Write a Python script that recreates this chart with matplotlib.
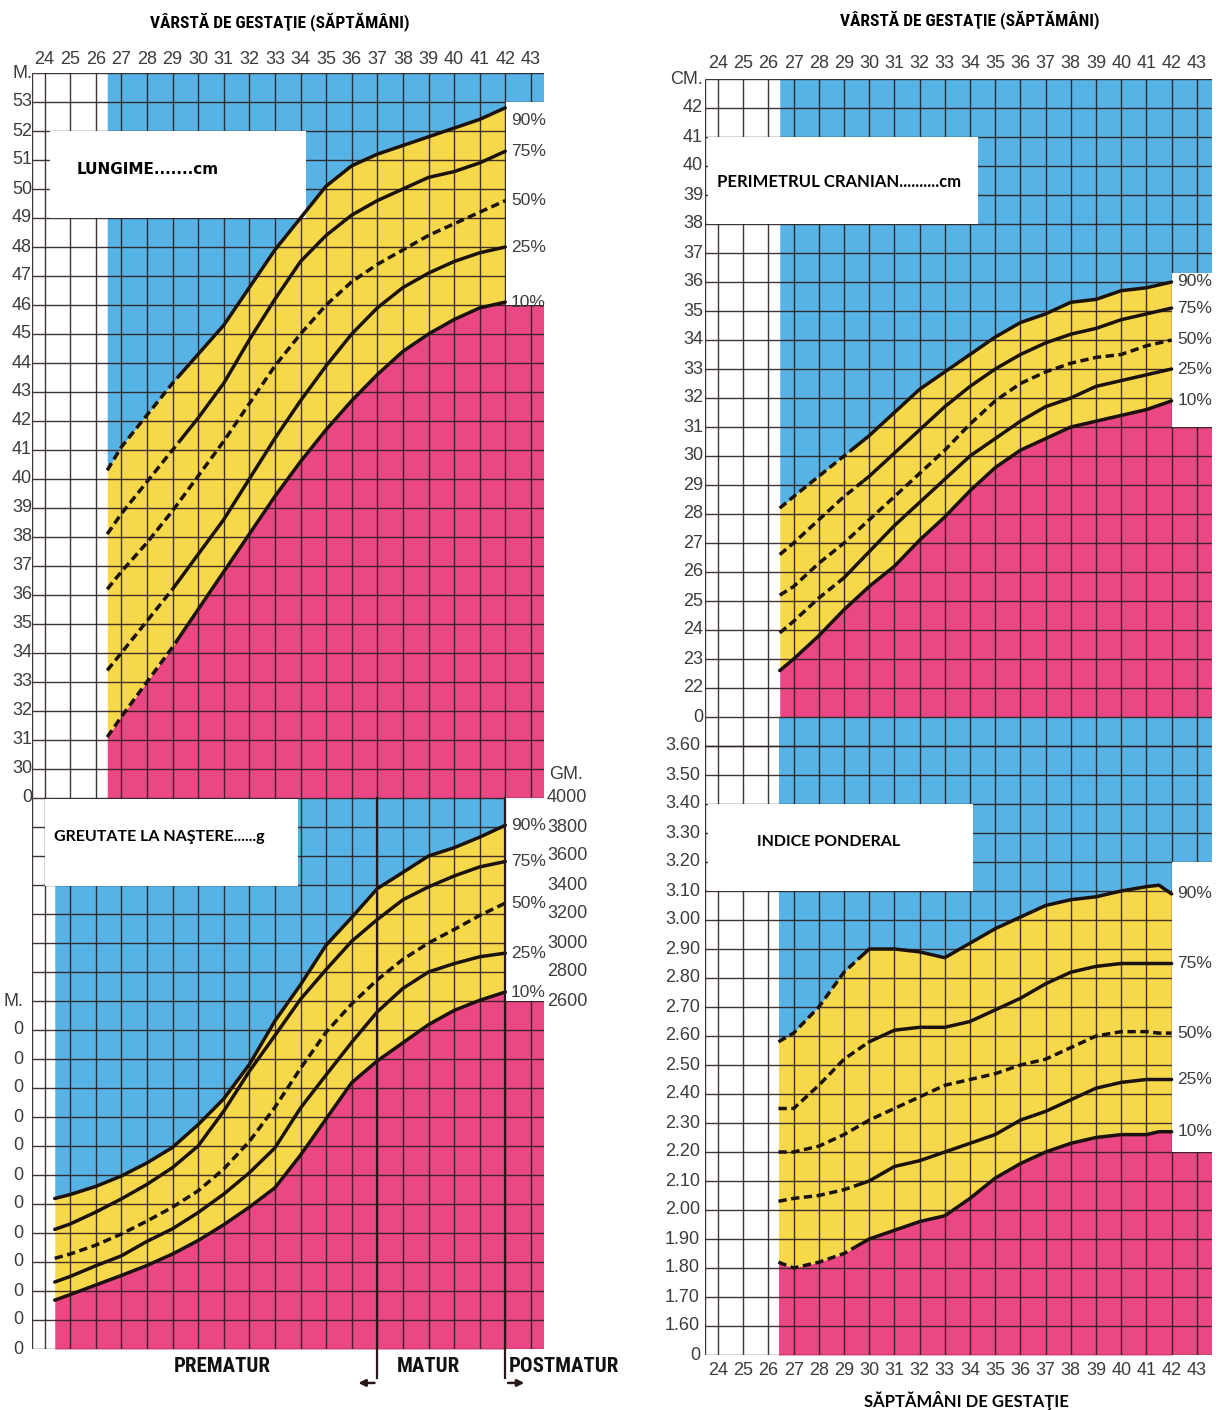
import numpy as np
import matplotlib
matplotlib.use("Agg")
import matplotlib.pyplot as plt
from matplotlib.patches import Rectangle
import matplotlib.transforms as mtransforms
from matplotlib import font_manager as fm

# ---------------------------------------------------------------- data
week_ticks = list(range(24, 44))
percentile_labels = ["90%", "75%", "50%", "25%", "10%"]

# Length (cm)
length_weeks = [26.45, 27, 28, 29, 30, 31, 32, 33, 34, 35, 36, 37, 38, 39, 40, 41, 42]
length_p90 = [40.3, 41.1, 42.2, 43.3, 44.3, 45.3, 46.6, 47.9, 49.0, 50.1, 50.8, 51.2, 51.5, 51.8, 52.1, 52.4, 52.8]
length_p75 = [38.1, 38.8, 39.9, 41.0, 42.1, 43.3, 44.8, 46.2, 47.5, 48.4, 49.1, 49.6, 50.0, 50.4, 50.6, 50.9, 51.3]
length_p50 = [36.2, 36.8, 37.8, 38.9, 40.1, 41.3, 42.6, 43.9, 45.0, 46.0, 46.8, 47.4, 47.9, 48.4, 48.8, 49.2, 49.6]
length_p25 = [33.4, 34.0, 35.1, 36.2, 37.4, 38.6, 40.0, 41.4, 42.7, 43.9, 45.0, 45.9, 46.6, 47.1, 47.5, 47.8, 48.0]
length_p10 = [31.1, 31.8, 33.0, 34.2, 35.5, 36.8, 38.1, 39.4, 40.6, 41.7, 42.7, 43.6, 44.4, 45.0, 45.5, 45.9, 46.1]
length_tick_values = list(range(29, 55))
length_tick_labels = ["0"] + [str(v) for v in range(30, 54)] + ["M."]

# Birth weight (g)
weight_weeks = [24.4, 25, 26, 27, 28, 29, 30, 31, 32, 33, 34, 35, 36, 37, 38, 39, 40, 41, 42]
weight_p90 = [1238, 1265, 1321, 1393, 1483, 1590, 1747, 1925, 2162, 2462, 2712, 2985, 3176, 3375, 3487, 3600, 3657, 3730, 3812]
weight_p75 = [1025, 1062, 1144, 1235, 1335, 1451, 1600, 1840, 2115, 2362, 2612, 2817, 3012, 3162, 3298, 3387, 3462, 3525, 3562]
weight_p50 = [825, 855, 916, 993, 1082, 1178, 1291, 1441, 1631, 1867, 2135, 2385, 2580, 2746, 2887, 3000, 3093, 3190, 3275]
weight_p25 = [662, 700, 774, 842, 942, 1029, 1141, 1268, 1415, 1587, 1862, 2090, 2315, 2525, 2687, 2800, 2858, 2905, 2930]
weight_p10 = [537, 575, 641, 707, 776, 855, 948, 1057, 1178, 1312, 1537, 1787, 2037, 2187, 2312, 2437, 2535, 2605, 2662]
weight_left_values = list(range(200, 2800, 200))
weight_left_labels = ["0"] * 12 + ["M."]
weight_right_values = list(range(2600, 4200, 200))
weight_right_labels = [str(v) for v in weight_right_values]

# Head circumference (cm)
head_weeks = [26.45, 27, 28, 29, 30, 31, 32, 33, 34, 35, 36, 37, 38, 39, 40, 41, 42]
head_p90 = [28.2, 28.6, 29.3, 30.0, 30.7, 31.5, 32.3, 32.9, 33.5, 34.1, 34.6, 34.9, 35.3, 35.4, 35.7, 35.8, 36.0]
head_p75 = [26.6, 27.0, 27.8, 28.6, 29.3, 30.1, 30.9, 31.7, 32.4, 33.0, 33.5, 33.9, 34.2, 34.4, 34.7, 34.9, 35.1]
head_p50 = [25.2, 25.5, 26.3, 27.0, 27.8, 28.6, 29.4, 30.2, 31.1, 31.9, 32.5, 32.9, 33.2, 33.4, 33.5, 33.8, 34.0]
head_p25 = [23.9, 24.3, 25.1, 25.8, 26.7, 27.6, 28.4, 29.2, 30.0, 30.6, 31.2, 31.7, 32.0, 32.4, 32.6, 32.8, 33.0]
head_p10 = [22.6, 23.0, 23.8, 24.7, 25.5, 26.2, 27.1, 27.9, 28.8, 29.6, 30.2, 30.6, 31.0, 31.2, 31.4, 31.6, 31.9]
head_tick_values = list(range(21, 44))
head_tick_labels = ["0"] + [str(v) for v in range(22, 43)] + ["CM."]

# Ponderal index
pi_weeks = [26.4, 27, 28, 29, 30, 31, 32, 33, 34, 35, 36, 37, 38, 39, 40, 41, 41.5, 42]
pi_p90 = [2.58, 2.61, 2.70, 2.82, 2.90, 2.90, 2.89, 2.87, 2.92, 2.97, 3.01, 3.05, 3.07, 3.08, 3.10, 3.115, 3.12, 3.09]
pi_p75 = [2.35, 2.35, 2.43, 2.52, 2.58, 2.62, 2.63, 2.63, 2.65, 2.69, 2.73, 2.78, 2.82, 2.84, 2.85, 2.85, 2.85, 2.85]
pi_p50 = [2.20, 2.20, 2.22, 2.26, 2.31, 2.35, 2.39, 2.43, 2.45, 2.47, 2.50, 2.52, 2.56, 2.60, 2.615, 2.615, 2.61, 2.61]
pi_p25 = [2.03, 2.04, 2.05, 2.07, 2.10, 2.15, 2.17, 2.20, 2.23, 2.26, 2.31, 2.34, 2.38, 2.42, 2.44, 2.45, 2.45, 2.45]
pi_p10 = [1.82, 1.80, 1.82, 1.85, 1.90, 1.93, 1.96, 1.98, 2.04, 2.11, 2.16, 2.20, 2.23, 2.25, 2.26, 2.26, 2.27, 2.27]
pi_tick_values = [round(1.5 + 0.1 * i, 2) for i in range(22)]
pi_tick_labels = ["0"] + ["%.2f" % v for v in pi_tick_values[1:]]

# ---------------------------------------------------------------- style
W, H, DPI = 1224, 1410, 100
BLUE, YELLOW, PINK = "#57b3e6", "#f7d84a", "#ea4784"
GRID, INK, TXT = "#2b1f1f", "#1b120c", "#3c3c3c"
NUM_FONT = ["Liberation Sans", "DejaVu Sans"]
BOXFONT = ["Lato", "DejaVu Sans"]


def pick_font(candidates):
    for fam in candidates:
        try:
            fm.findfont(fm.FontProperties(family=fam, weight="bold"), fallback_to_default=False)
            return fam
        except Exception:
            continue
    return None


_narrow = pick_font(["Liberation Sans Narrow", "Roboto Condensed", "DejaVu Sans Condensed"])
if _narrow is not None:
    HEAD_FONT = [_narrow, "DejaVu Sans"]
    HEAD_SIZE, FOOT_SIZE = 12.5, 15.0 if _narrow != "DejaVu Sans Condensed" else 12.5
else:
    HEAD_FONT = ["Lato", "DejaVu Sans"]
    HEAD_SIZE, FOOT_SIZE = 11.5, 13.0

fig = plt.figure(figsize=(W / DPI, H / DPI), dpi=DPI)
fig.patch.set_facecolor("white")

L_X0, L_STEP, L_WMIN, L_WMAX = 44.5, 25.6, 23.5, 43.5
R_X0, R_STEP, R_WMIN, R_WMAX = 718.0, 25.2, 23.5, 43.6


def make_ax(x0, step, wmin, wmax, ytop, ybot, ylim):
    xa = x0 + step * (wmin - 24)
    xb = x0 + step * (wmax - 24)
    ax = fig.add_axes([xa / W, 1 - ybot / H, (xb - xa) / W, (ybot - ytop) / H])
    ax.set_xlim(wmin, wmax)
    ax.set_ylim(*ylim)
    ax.axis("off")
    ax.patch.set_alpha(0)
    return ax


axL1 = make_ax(L_X0, L_STEP, L_WMIN, L_WMAX, 73, 798, (29, 54))
axL2 = make_ax(L_X0, L_STEP, L_WMIN, L_WMAX, 798, 1349, (200, 4000))
axR1 = make_ax(R_X0, R_STEP, R_WMIN, R_WMAX, 79, 717, (21, 43))
axR2 = make_ax(R_X0, R_STEP, R_WMIN, R_WMAX, 717, 1355, (1.5, 3.7))


def draw_curve(ax, wk, y, mode, split=None):
    kw = dict(color=INK, lw=2.5, zorder=6, solid_joinstyle="round")
    dkw = dict(color=INK, lw=2.5, zorder=6, dashes=(2.4, 1.3), dash_capstyle="butt")
    if mode == "dashed":
        ax.plot(wk, y, **dkw)
    elif split is None:
        ax.plot(wk, y, solid_capstyle="round", **kw)
    else:
        ys = np.interp(split, wk, y)
        m = wk < split
        ax.plot(np.r_[wk[m], split], np.r_[y[m], ys], **dkw)
        ax.plot(np.r_[split, wk[~m]], np.r_[ys, y[~m]], solid_capstyle="round", **kw)


def panel(ax, weeks, series, hlines, box_lo, box_hi, styles, top_label_dy=0.0):
    wk = np.asarray(weeks, float)
    s = [np.asarray(v, float) for v in series]
    wmin, wmax = ax.get_xlim()
    ymin, ymax = ax.get_ylim()
    ax.fill_between(wk, s[0], ymax, color=BLUE, lw=0, zorder=1)
    ax.fill_between(wk, s[-1], s[0], color=YELLOW, lw=0, zorder=1)
    ax.fill_between(wk, ymin, s[-1], color=PINK, lw=0, zorder=1)
    ax.add_patch(Rectangle((wk[-1], box_hi), wmax - wk[-1], ymax - box_hi, color=BLUE, lw=0, zorder=1))
    ax.add_patch(Rectangle((wk[-1], ymin), wmax - wk[-1], box_lo - ymin, color=PINK, lw=0, zorder=1))
    ax.vlines([wmin] + week_ticks, ymin, ymax, color=GRID, lw=1.0, alpha=0.9, zorder=2)
    ax.hlines(hlines, wmin, wmax, color=GRID, lw=1.0, alpha=0.9, zorder=2)
    ax.add_patch(Rectangle((wk[-1] + 0.03, box_lo), wmax - wk[-1], box_hi - box_lo,
                           facecolor="white", lw=0, zorder=3))
    for y, (mode, split) in zip(s, styles):
        draw_curve(ax, wk, y, mode, split)
    for i, (y, lab) in enumerate(zip(s, percentile_labels)):
        dy = top_label_dy if i == 0 else 0.0
        ax.text(wk[-1] + 0.22, y[-1] + dy, lab, ha="left", va="center", fontsize=12.5,
                color=TXT, family=NUM_FONT, zorder=7)


def white_box(ax, w0, w1, y0, y1):
    ax.add_patch(Rectangle((w0, y0), w1 - w0, y1 - y0, facecolor="white", lw=0, zorder=4))


# ---------------- left top: length
panel(axL1, length_weeks, [length_p90, length_p75, length_p50, length_p25, length_p10],
      length_tick_values, 46, 53,
      [("split", 29.3), ("split", 29.4), ("dashed", None), ("split", 29.1), ("split", 29.3)],
      top_label_dy=-0.45)
white_box(axL1, 24.2, 34.2, 49.0, 52.0)
axL1.text(25.27, 50.66, "LUNGIME.......cm", fontsize=11, fontweight="bold",
          family=["DejaVu Sans"], va="center", ha="left", zorder=5)

# ---------------- left bottom: weight
panel(axL2, weight_weeks, [weight_p90, weight_p75, weight_p50, weight_p25, weight_p10],
      list(range(200, 4200, 200)), 2600, 4000,
      [("solid", None), ("solid", None), ("dashed", None), ("solid", None), ("solid", None)])
white_box(axL2, 24.0, 33.9, 3393, 3990)
axL2.text(24.37, 3731, "GREUTATE LA NAŞTERE......g", fontsize=11.5, fontweight="bold",
          family=BOXFONT, va="center", ha="left", zorder=5)

# ---------------- right top: head circumference
panel(axR1, head_weeks, [head_p90, head_p75, head_p50, head_p25, head_p10],
      head_tick_values, 31, 36.3,
      [("split", 29.4), ("split", 29.8), ("dashed", None), ("split", 29.0), ("solid", None)])
white_box(axR1, 23.6, 34.3, 38.0, 41.0)
axR1.text(23.96, 39.45, "PERIMETRUL CRANIAN..........cm", fontsize=12, fontweight="bold",
          family=BOXFONT, va="center", ha="left", zorder=5)

# ---------------- right bottom: ponderal index
panel(axR2, pi_weeks, [pi_p90, pi_p75, pi_p50, pi_p25, pi_p10],
      pi_tick_values + [3.6, 3.7], 2.2, 3.2,
      [("split", 29.6), ("split", 30.0), ("dashed", None), ("split", 29.6), ("split", 29.6)])
white_box(axR2, 23.6, 34.1, 3.10, 3.40)
axR2.text(25.55, 3.269, "INDICE PONDERAL", fontsize=11.5, fontweight="bold",
          family=BOXFONT, va="center", ha="left", zorder=5)


# ---------------- tick labels
def ylabels(ax, values, labels, xpx, ha="right", size=12.5):
    tr = mtransforms.blended_transform_factory(fig.transFigure, ax.transData)
    for v, lab in zip(values, labels):
        ax.text(xpx / W, v, lab, transform=tr, ha=ha, va="center", fontsize=size,
                color=TXT, family=NUM_FONT)


ylabels(axL1, length_tick_values, length_tick_labels, 32, size=13)
ylabels(axL2, weight_left_values, weight_left_labels, 23, size=13)
ylabels(axL2, weight_right_values, weight_right_labels, 547, ha="left", size=13)
ylabels(axL2, [4159], ["GM."], 549, ha="left", size=13)
ylabels(axR1, head_tick_values, head_tick_labels, 703, size=13)
ylabels(axR2, pi_tick_values, pi_tick_labels, 700, size=13)


def xlabels(ax, yval):
    for w in week_ticks:
        ax.text(w, yval, str(w), ha="center", va="center", fontsize=13, color=TXT,
                family=NUM_FONT)


xlabels(axL1, 54.45)
xlabels(axR1, 43.52)
xlabels(axR2, 1.448)

# ---------------- headers and footers
fig.text(280 / W, 1 - 22 / H, "VÂRSTĂ DE GESTAŢIE (SĂPTĂMÂNI)", ha="center", va="center",
         fontsize=HEAD_SIZE, fontweight="bold", family=HEAD_FONT)
fig.text(970 / W, 1 - 20 / H, "VÂRSTĂ DE GESTAŢIE (SĂPTĂMÂNI)", ha="center", va="center",
         fontsize=HEAD_SIZE, fontweight="bold", family=HEAD_FONT)
fig.text(966 / W, 1 - 1400 / H, "SĂPTĂMÂNI DE GESTAŢIE", ha="center", va="center",
         fontsize=12, fontweight="bold", family=BOXFONT)

for w in (37, 42):
    axL2.plot([w, w], [4000, 0], color="#2a1818", lw=1.6, clip_on=False, zorder=6)
axL2.annotate("", xy=(36.15, -34), xytext=(37.0, -34),
              arrowprops=dict(arrowstyle="-|>", lw=1.8, color="#2a1818", mutation_scale=10),
              annotation_clip=False)
axL2.annotate("", xy=(42.85, -34), xytext=(42.0, -34),
              arrowprops=dict(arrowstyle="-|>", lw=1.8, color="#2a1818", mutation_scale=10),
              annotation_clip=False)
axL2.text(30.93, 76, "PREMATUR", ha="center", va="center", fontsize=FOOT_SIZE,
          fontweight="bold", family=HEAD_FONT, color="#111111")
axL2.text(38.98, 76, "MATUR", ha="center", va="center", fontsize=FOOT_SIZE,
          fontweight="bold", family=HEAD_FONT, color="#111111")
axL2.text(42.12, 76, "POSTMATUR", ha="left", va="center", fontsize=FOOT_SIZE,
          fontweight="bold", family=HEAD_FONT, color="#111111")

fig.savefig("out.png", dpi=DPI, facecolor="white")
